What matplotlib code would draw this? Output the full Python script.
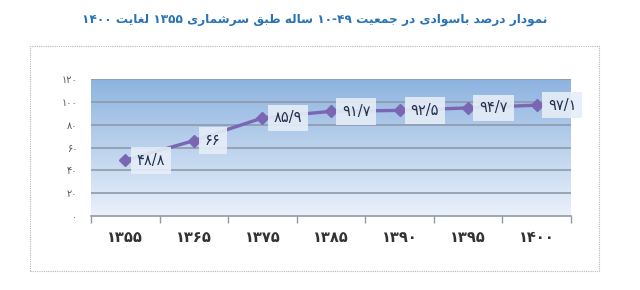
import numpy as np
import matplotlib
matplotlib.use('Agg')
import matplotlib.pyplot as plt
from matplotlib.patches import Rectangle

# data
years = ['۱۳۵۵', '۱۳۶۵', '۱۳۷۵', '۱۳۸۵', '۱۳۹۰', '۱۳۹۵', '۱۴۰۰']
literacy = [48.8, 66, 85.9, 91.7, 92.5, 94.7, 97.1]
title_words = ['نمودار', 'درصد', 'باسوادی', 'در', 'جمعیت', '۱۰-۴۹', 'ساله',
               'طبق', 'سرشماری', '۱۳۵۵', 'لغایت', '۱۴۰۰']

FA_DIGITS = str.maketrans('0123456789.', '۰۱۲۳۴۵۶۷۸۹/')

def fa_num(v):
    s = ('%g' % v)
    return s.translate(FA_DIGITS)

# minimal arabic shaping (isolated, final, initial, medial)
FORMS = {
    'ا': (0xFE8D, 0xFE8E, None, None),
    'د': (0xFEA9, 0xFEAA, None, None),
    'ر': (0xFEAD, 0xFEAE, None, None),
    'و': (0xFEED, 0xFEEE, None, None),
    'ب': (0xFE8F, 0xFE90, 0xFE91, 0xFE92),
    'ت': (0xFE95, 0xFE96, 0xFE97, 0xFE98),
    'ج': (0xFE9D, 0xFE9E, 0xFE9F, 0xFEA0),
    'س': (0xFEB1, 0xFEB2, 0xFEB3, 0xFEB4),
    'ش': (0xFEB5, 0xFEB6, 0xFEB7, 0xFEB8),
    'ص': (0xFEB9, 0xFEBA, 0xFEBB, 0xFEBC),
    'ط': (0xFEC1, 0xFEC2, 0xFEC3, 0xFEC4),
    'ع': (0xFEC9, 0xFECA, 0xFECB, 0xFECC),
    'غ': (0xFECD, 0xFECE, 0xFECF, 0xFED0),
    'ق': (0xFED5, 0xFED6, 0xFED7, 0xFED8),
    'ل': (0xFEDD, 0xFEDE, 0xFEDF, 0xFEE0),
    'م': (0xFEE1, 0xFEE2, 0xFEE3, 0xFEE4),
    'ن': (0xFEE5, 0xFEE6, 0xFEE7, 0xFEE8),
    'ه': (0xFEE9, 0xFEEA, 0xFEEB, 0xFEEC),
    'ی': (0xFEEF, 0xFEF0, 0xFEF3, 0xFEF4),
}

def shape_word(w):
    if not any(c in FORMS for c in w):
        return w
    out = []
    for i, c in enumerate(w):
        f = FORMS.get(c)
        if f is None:
            out.append(c)
            continue
        prev = i > 0 and w[i - 1] in FORMS and FORMS[w[i - 1]][2] is not None
        nxt = i < len(w) - 1 and w[i + 1] in FORMS and f[2] is not None
        if prev and nxt:
            code = f[3]
        elif prev:
            code = f[1]
        elif nxt:
            code = f[2]
        else:
            code = f[0]
        out.append(chr(code))
    return ''.join(reversed(out))

def rtl(words):
    return ' '.join(shape_word(w) for w in reversed(words))

plt.rcParams['font.family'] = ['DejaVu Sans']

fig = plt.figure(figsize=(6.4, 2.9), dpi=100)
fig.patch.set_facecolor('white')

# dotted frame
fig.patches.append(Rectangle((30 / 640, 1 - 271 / 290), 569 / 640, 225 / 290,
                             transform=fig.transFigure, fill=False,
                             ls=(0, (1, 1)), lw=0.8, ec='#b8b8b8'))

fig.text(315 / 640, 1 - 20 / 290, rtl(title_words), ha='center', va='center',
         fontsize=8.7, fontweight='bold', color='#2a74b4')

ax = fig.add_axes([91 / 640, 1 - 216 / 290, 480 / 640, 137 / 290])
x = np.arange(len(years))
ax.set_xlim(-0.5, len(years) - 0.5)
ax.set_ylim(0, 120)

# gradient background
top = np.array([0x8d, 0xb3, 0xe0]) / 255
bot = np.array([0xea, 0xf1, 0xfa]) / 255
t = np.linspace(0, 1, 256)[:, None]
grad = (top * (1 - t) + bot * t)[:, None, :]
ax.imshow(grad, extent=[-0.5, len(years) - 0.5, 0, 120], aspect='auto',
          zorder=0, interpolation='bilinear')

yticks = np.arange(0, 121, 20)
for yv in yticks[1:]:
    ax.axhline(yv, color='#8f9aa8', lw=1.2, zorder=1)
ax.set_yticks(yticks)
ax.set_yticklabels([fa_num(v) for v in yticks], fontsize=7, color='#555555')

ax.plot(x, literacy, color='#7a66b3', lw=2.4, marker='D', ms=6.5,
        mec='#7a66b3', mfc='#7a66b3', zorder=3)

for xi, v in zip(x, literacy):
    ax.annotate(fa_num(v), (xi, v), xytext=(8, 0), textcoords='offset points',
                ha='left', va='center', fontsize=10.5, color='#22304d', zorder=4,
                bbox=dict(boxstyle='square,pad=0.4', fc='#e6eef8', ec='none',
                          alpha=0.9))

ax.set_xticks(np.arange(-0.5, len(years), 1.0))
ax.set_xticklabels([])
ax.set_xticks(x, minor=True)
ax.set_xticklabels(years, minor=True, fontsize=10.5, fontweight='bold',
                   color='#333333')
ax.tick_params(axis='x', which='major', direction='out', length=5,
               color='#8f9aa8', width=1)
ax.tick_params(axis='x', which='minor', length=0, pad=10)
ax.tick_params(axis='y', length=0, pad=10)

for s in ['top', 'right', 'left']:
    ax.spines[s].set_visible(False)
ax.spines['bottom'].set_color('#8f9aa8')
ax.spines['bottom'].set_linewidth(1.2)

fig.savefig('out.png', dpi=100)
